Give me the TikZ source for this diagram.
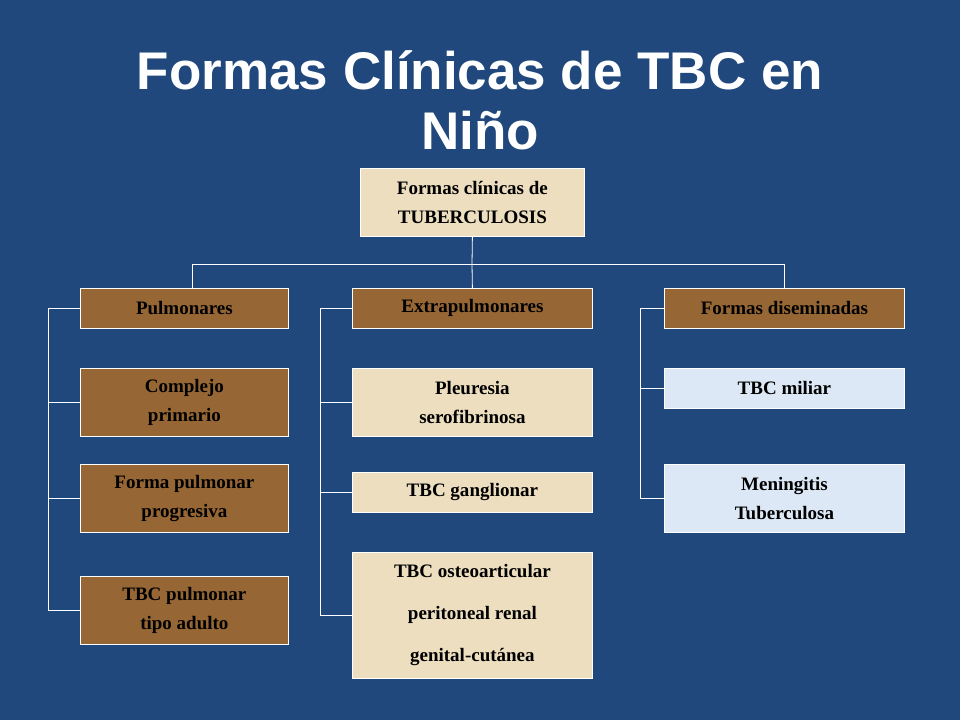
\documentclass[tikz,border=0pt]{standalone}
\usepackage{fontspec}
\setmainfont{Liberation Serif}
\setsansfont{Liberation Sans}
\begin{document}
\begin{tikzpicture}[x=1pt,y=-1pt]
\definecolor{bg}{RGB}{32,72,124}
\definecolor{brownb}{RGB}{150,102,52}
\definecolor{beige}{RGB}{236,222,190}
\definecolor{lblue}{RGB}{220,232,246}
\tikzset{
 bx/.style={draw=white,line width=0.8pt,inner sep=0pt,align=center,font=\fontsize{19}{29}\selectfont\bfseries,text=black,anchor=north west},
 br/.style={bx,fill=brownb},
 be/.style={bx,fill=beige},
 bl/.style={bx,fill=lblue},
 ln/.style={draw=white,line width=0.8pt}
}
\fill[bg] (0,0) rectangle (960,720);
\node[font=\sffamily\bfseries\fontsize{53}{60}\selectfont,text=white,align=center] (title) at (480,100) {Formas Clínicas de TBC en\\Niño};
\node[be,minimum width=224,minimum height=68] (root) at (360,168) {Formas clínicas de\\TUBERCULOSIS};
\node[br,minimum width=208,minimum height=40] (p) at (80,288) {Pulmonares};
\node[br,minimum width=208,minimum height=68] (p1) at (80,368) {Complejo\\primario};
\node[br,minimum width=208,minimum height=68] (p2) at (80,464) {Forma pulmonar\\progresiva};
\node[br,minimum width=208,minimum height=68] (p3) at (80,576) {TBC pulmonar\\tipo adulto};
\node[br,minimum width=240,minimum height=40] (e) at (352,288) {Extrapulmonares};
\node[be,minimum width=240,minimum height=68] (e1) at (352,368) {Pleuresia\\serofibrinosa};
\node[be,minimum width=240,minimum height=40] (e2) at (352,472) {TBC ganglionar};
\node[be,minimum width=240,minimum height=126,font=\fontsize{19}{42}\selectfont\bfseries] (e3) at (352,552) {TBC osteoarticular\\peritoneal renal\\genital-cutánea};
\node[br,minimum width=240,minimum height=40] (d) at (664,288) {Formas diseminadas};
\node[bl,minimum width=240,minimum height=40] (d1) at (664,368) {TBC miliar};
\node[bl,minimum width=240,minimum height=68] (d2) at (664,464) {Meningitis\\Tuberculosa};
\coordinate (j) at (472,264);
\coordinate (jl) at (192,264);
\coordinate (jr) at (784,264);
\draw[ln] (root.south) -- (j);
\draw[ln] (jl) -- (jr);
\draw[ln] (jl) -- (jl |- p.north);
\draw[ln] (jr) -- (jr |- d.north);
\draw[ln] (j) -- (e.north);
\draw[ln] (p.west) -- ++(-32,0) |- (p3.west);
\draw[ln] (p1.west) -- ++(-32,0);
\draw[ln] (p2.west) -- ++(-32,0);
\draw[ln] (e.west) -- ++(-32,0) |- (e3.west);
\draw[ln] (e1.west) -- ++(-32,0);
\draw[ln] (e2.west) -- ++(-32,0);
\draw[ln] (d.west) -- ++(-24,0) |- (d2.west);
\draw[ln] (d1.west) -- ++(-24,0);
\end{tikzpicture}
\end{document}
